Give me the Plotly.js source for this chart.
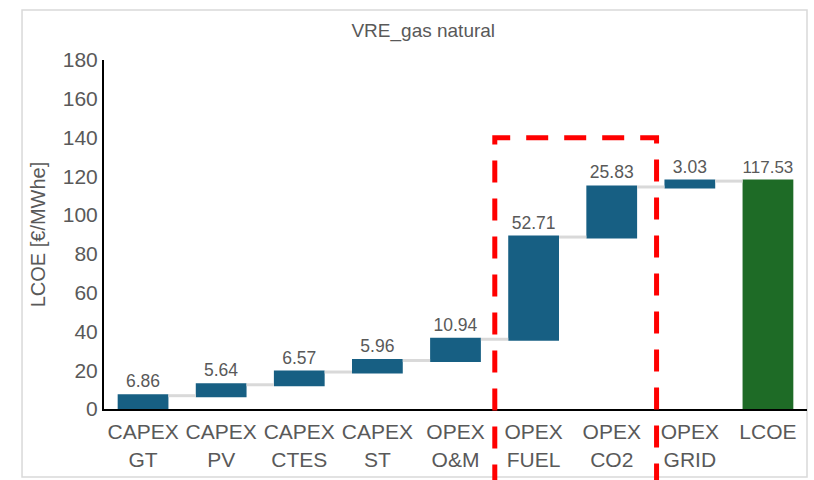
<!DOCTYPE html>
<html>
<head>
<meta charset="utf-8">
<script src="https://cdn.plot.ly/plotly-3.0.1.min.js"></script>
<style>html,body{margin:0;padding:0;background:#fff}#chart{width:814px;height:480px}</style>
</head>
<body>
<div id="chart"></div>
<script>
var categories = ["CAPEX<br>GT", "CAPEX<br>PV", "CAPEX<br>CTES", "CAPEX<br>ST", "OPEX<br>O&M", "OPEX<br>FUEL", "OPEX<br>CO2", "OPEX<br>GRID", "LCOE"];
var values = [6.86, 5.64, 6.57, 5.96, 10.94, 52.71, 25.83, 3.03, 0];
var measures = ["relative", "relative", "relative", "relative", "relative", "relative", "relative", "relative", "total"];
var labels = ["6.86", "5.64", "6.57", "5.96", "10.94", "52.71", "25.83", "3.03", "117.53"];
var yTicks = [0, 20, 40, 60, 80, 100, 120, 140, 160, 180];

var grey = "#595959";
var trace = {
  type: "waterfall",
  x: categories,
  y: values,
  measure: measures,
  text: labels,
  textposition: "outside",
  textfont: {family: "Liberation Sans, Arial, sans-serif", size: 17.5, color: grey},
  cliponaxis: false,
  width: 0.65,
  increasing: {marker: {color: "#175f83"}},
  decreasing: {marker: {color: "#175f83"}},
  totals: {marker: {color: "#1e6b26"}},
  connector: {line: {color: "#d9d9d9", width: 3}},
  hoverinfo: "none"
};

var layout = {
  width: 814, height: 480,
  margin: {l: 104, r: 7, t: 60, b: 71},
  paper_bgcolor: "#fff", plot_bgcolor: "#fff",
  showlegend: false,
  font: {family: "Liberation Sans, Arial, sans-serif", color: grey},
  title: {text: "VRE_gas natural", font: {size: 19, color: grey}, x: 0.52, xref: "container", xanchor: "center", y: 0.937, yref: "container", yanchor: "middle"},
  xaxis: {
    showline: true, linecolor: "#000", linewidth: 2, showgrid: false, zeroline: false,
    tickfont: {size: 21, color: grey}, ticks: "", ticklabelstandoff: 3, fixedrange: true
  },
  yaxis: {
    range: [0, 180], tickvals: yTicks, ticktext: yTicks.map(String),
    showline: true, linecolor: "#000", linewidth: 2, showgrid: false, zeroline: false,
    tickfont: {size: 21, color: grey}, ticks: "",
    title: {text: "LCOE [€/MWhe]", font: {size: 20, color: grey}, standoff: 12}
  },
  shapes: [
    {type: "rect", xref: "paper", yref: "paper", x0: -0.1166, x1: 1.0, y0: -0.195, y1: 1.143,
     line: {color: "#d9d9d9", width: 1.5}, fillcolor: "rgba(0,0,0,0)", layer: "below"},
    {type: "rect", xref: "x", yref: "paper", x0: 4.503, x1: 6.574, y0: -0.3, y1: 0.777,
     line: {color: "#ff0000", width: 5, dash: "22px,16px"}, fillcolor: "rgba(0,0,0,0)", layer: "above"}
  ]
};

Plotly.newPlot("chart", [trace], layout, {staticPlot: true});
</script>
</body>
</html>
